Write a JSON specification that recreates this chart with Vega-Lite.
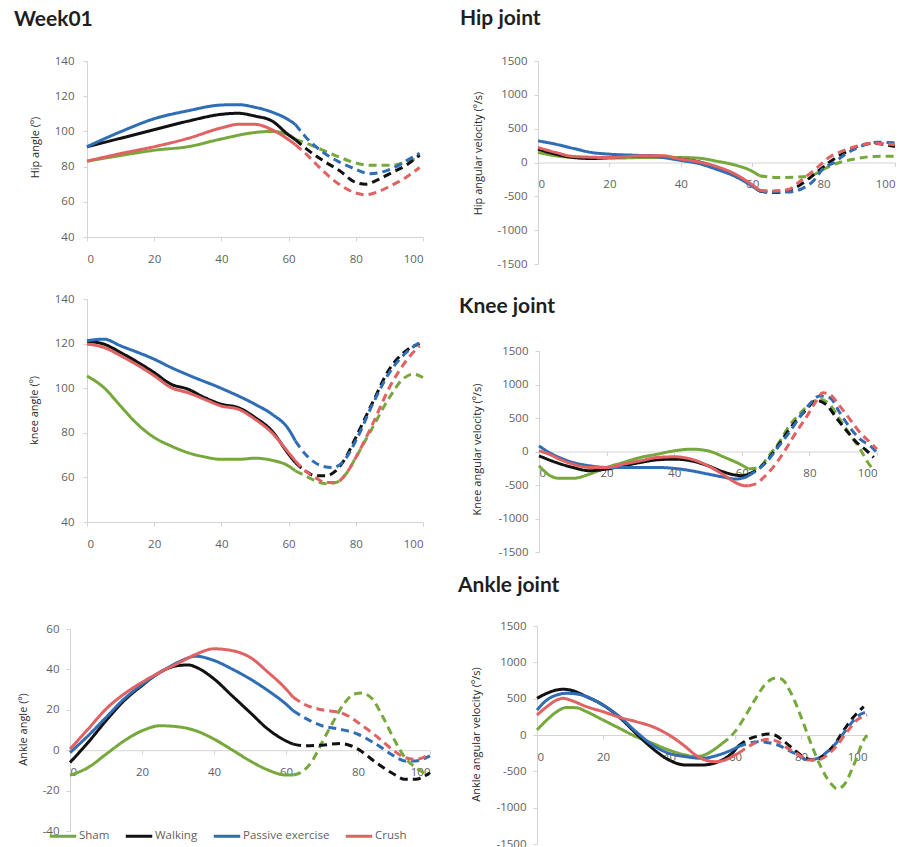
{
  "$schema": "https://vega.github.io/schema/vega-lite/v6.json",
  "background": "white",
  "padding": {"left": 14, "top": 8, "right": 0, "bottom": 0},
  "datasets": {
    "hipAngle": [
      {"group":"Sham","phase":"Stance","pct":0,"value":83.1},{"group":"Sham","phase":"Stance","pct":10,"value":86.3},{"group":"Sham","phase":"Stance","pct":20,"value":89.3},{"group":"Sham","phase":"Stance","pct":30,"value":91.3},{"group":"Sham","phase":"Stance","pct":40,"value":95.7},{"group":"Sham","phase":"Stance","pct":50,"value":99.4},{"group":"Sham","phase":"Stance","pct":55,"value":100},{"group":"Sham","phase":"Stance","pct":60,"value":98},{"group":"Sham","phase":"Stance","pct":62,"value":95.5},
      {"group":"Sham","phase":"Swing","pct":62,"value":95.5},{"group":"Sham","phase":"Swing","pct":65,"value":93.5},{"group":"Sham","phase":"Swing","pct":70,"value":89.5},{"group":"Sham","phase":"Swing","pct":75,"value":85.5},{"group":"Sham","phase":"Swing","pct":80,"value":82},{"group":"Sham","phase":"Swing","pct":85,"value":80.7},{"group":"Sham","phase":"Swing","pct":90,"value":80.7},{"group":"Sham","phase":"Swing","pct":95,"value":82.5},{"group":"Sham","phase":"Swing","pct":99,"value":85.5},
      {"group":"Walking","phase":"Stance","pct":0,"value":91.3},{"group":"Walking","phase":"Stance","pct":10,"value":96.1},{"group":"Walking","phase":"Stance","pct":20,"value":101},{"group":"Walking","phase":"Stance","pct":30,"value":105.8},{"group":"Walking","phase":"Stance","pct":40,"value":109.7},{"group":"Walking","phase":"Stance","pct":45,"value":110.3},{"group":"Walking","phase":"Stance","pct":50,"value":108.7},{"group":"Walking","phase":"Stance","pct":55,"value":106},{"group":"Walking","phase":"Stance","pct":60,"value":98},{"group":"Walking","phase":"Stance","pct":62,"value":95.3},
      {"group":"Walking","phase":"Swing","pct":62,"value":95.3},{"group":"Walking","phase":"Swing","pct":65,"value":90.5},{"group":"Walking","phase":"Swing","pct":70,"value":83.7},{"group":"Walking","phase":"Swing","pct":75,"value":77.9},{"group":"Walking","phase":"Swing","pct":80,"value":71},{"group":"Walking","phase":"Swing","pct":83,"value":70},{"group":"Walking","phase":"Swing","pct":86,"value":72},{"group":"Walking","phase":"Swing","pct":90,"value":75.9},{"group":"Walking","phase":"Swing","pct":95,"value":80.8},{"group":"Walking","phase":"Swing","pct":99,"value":86.6},
      {"group":"Passive exercise","phase":"Stance","pct":0,"value":91.3},{"group":"Passive exercise","phase":"Stance","pct":10,"value":99.8},{"group":"Passive exercise","phase":"Stance","pct":20,"value":107.2},{"group":"Passive exercise","phase":"Stance","pct":30,"value":111.7},{"group":"Passive exercise","phase":"Stance","pct":40,"value":115},{"group":"Passive exercise","phase":"Stance","pct":45,"value":115.2},{"group":"Passive exercise","phase":"Stance","pct":50,"value":113.7},{"group":"Passive exercise","phase":"Stance","pct":55,"value":111},{"group":"Passive exercise","phase":"Stance","pct":60,"value":106.6},{"group":"Passive exercise","phase":"Stance","pct":62,"value":104},
      {"group":"Passive exercise","phase":"Swing","pct":62,"value":104},{"group":"Passive exercise","phase":"Swing","pct":65,"value":97},{"group":"Passive exercise","phase":"Swing","pct":70,"value":88.5},{"group":"Passive exercise","phase":"Swing","pct":75,"value":82.7},{"group":"Passive exercise","phase":"Swing","pct":80,"value":78.5},{"group":"Passive exercise","phase":"Swing","pct":84,"value":76},{"group":"Passive exercise","phase":"Swing","pct":88,"value":77},{"group":"Passive exercise","phase":"Swing","pct":92,"value":80},{"group":"Passive exercise","phase":"Swing","pct":96,"value":84.4},{"group":"Passive exercise","phase":"Swing","pct":99,"value":87.6},
      {"group":"Crush","phase":"Stance","pct":0,"value":83.1},{"group":"Crush","phase":"Stance","pct":10,"value":87.4},{"group":"Crush","phase":"Stance","pct":20,"value":91.3},{"group":"Crush","phase":"Stance","pct":30,"value":96},{"group":"Crush","phase":"Stance","pct":40,"value":102},{"group":"Crush","phase":"Stance","pct":45,"value":104},{"group":"Crush","phase":"Stance","pct":50,"value":104},{"group":"Crush","phase":"Stance","pct":55,"value":101},{"group":"Crush","phase":"Stance","pct":60,"value":95.3},{"group":"Crush","phase":"Stance","pct":62,"value":92.5},
      {"group":"Crush","phase":"Swing","pct":62,"value":92.5},{"group":"Crush","phase":"Swing","pct":65,"value":87.5},{"group":"Crush","phase":"Swing","pct":70,"value":78},{"group":"Crush","phase":"Swing","pct":75,"value":70},{"group":"Crush","phase":"Swing","pct":80,"value":65},{"group":"Crush","phase":"Swing","pct":83,"value":64},{"group":"Crush","phase":"Swing","pct":87,"value":66},{"group":"Crush","phase":"Swing","pct":90,"value":68.7},{"group":"Crush","phase":"Swing","pct":95,"value":74},{"group":"Crush","phase":"Swing","pct":99,"value":79.5}
    ],
    "hipVelocity": [
      {"group":"Sham","phase":"Stance","pct":0,"value":148},{"group":"Sham","phase":"Stance","pct":5,"value":99},{"group":"Sham","phase":"Stance","pct":10,"value":74},{"group":"Sham","phase":"Stance","pct":20,"value":64},{"group":"Sham","phase":"Stance","pct":30,"value":74},{"group":"Sham","phase":"Stance","pct":40,"value":74},{"group":"Sham","phase":"Stance","pct":45,"value":64},{"group":"Sham","phase":"Stance","pct":50,"value":20},{"group":"Sham","phase":"Stance","pct":55,"value":-35},{"group":"Sham","phase":"Stance","pct":60,"value":-130},{"group":"Sham","phase":"Stance","pct":62,"value":-195},
      {"group":"Sham","phase":"Swing","pct":62,"value":-195},{"group":"Sham","phase":"Swing","pct":67,"value":-222},{"group":"Sham","phase":"Swing","pct":74,"value":-212},{"group":"Sham","phase":"Swing","pct":77,"value":-185},{"group":"Sham","phase":"Swing","pct":80,"value":-99},{"group":"Sham","phase":"Swing","pct":84.5,"value":0},{"group":"Sham","phase":"Swing","pct":89,"value":55},{"group":"Sham","phase":"Swing","pct":94,"value":89},{"group":"Sham","phase":"Swing","pct":100,"value":92},
      {"group":"Walking","phase":"Stance","pct":0,"value":197},{"group":"Walking","phase":"Stance","pct":5,"value":123},{"group":"Walking","phase":"Stance","pct":10,"value":74},{"group":"Walking","phase":"Stance","pct":15,"value":59},{"group":"Walking","phase":"Stance","pct":20,"value":74},{"group":"Walking","phase":"Stance","pct":25,"value":89},{"group":"Walking","phase":"Stance","pct":30,"value":99},{"group":"Walking","phase":"Stance","pct":35,"value":89},{"group":"Walking","phase":"Stance","pct":40,"value":50},{"group":"Walking","phase":"Stance","pct":45,"value":10},{"group":"Walking","phase":"Stance","pct":50,"value":-75},{"group":"Walking","phase":"Stance","pct":55,"value":-180},{"group":"Walking","phase":"Stance","pct":60,"value":-340},{"group":"Walking","phase":"Stance","pct":62,"value":-420},
      {"group":"Walking","phase":"Swing","pct":62,"value":-420},{"group":"Walking","phase":"Swing","pct":66,"value":-444},{"group":"Walking","phase":"Swing","pct":70,"value":-420},{"group":"Walking","phase":"Swing","pct":74,"value":-311},{"group":"Walking","phase":"Swing","pct":78,"value":-148},{"group":"Walking","phase":"Swing","pct":81.5,"value":0},{"group":"Walking","phase":"Swing","pct":85,"value":118},{"group":"Walking","phase":"Swing","pct":89,"value":227},{"group":"Walking","phase":"Swing","pct":94,"value":281},{"group":"Walking","phase":"Swing","pct":100,"value":235},
      {"group":"Passive exercise","phase":"Stance","pct":0,"value":320},{"group":"Passive exercise","phase":"Stance","pct":5,"value":270},{"group":"Passive exercise","phase":"Stance","pct":10,"value":207},{"group":"Passive exercise","phase":"Stance","pct":15,"value":148},{"group":"Passive exercise","phase":"Stance","pct":20,"value":123},{"group":"Passive exercise","phase":"Stance","pct":30,"value":99},{"group":"Passive exercise","phase":"Stance","pct":35,"value":74},{"group":"Passive exercise","phase":"Stance","pct":40,"value":30},{"group":"Passive exercise","phase":"Stance","pct":45,"value":-15},{"group":"Passive exercise","phase":"Stance","pct":50,"value":-100},{"group":"Passive exercise","phase":"Stance","pct":55,"value":-200},{"group":"Passive exercise","phase":"Stance","pct":60,"value":-350},{"group":"Passive exercise","phase":"Stance","pct":62,"value":-419},
      {"group":"Passive exercise","phase":"Swing","pct":62,"value":-419},{"group":"Passive exercise","phase":"Swing","pct":65,"value":-435},{"group":"Passive exercise","phase":"Swing","pct":70,"value":-435},{"group":"Passive exercise","phase":"Swing","pct":74,"value":-385},{"group":"Passive exercise","phase":"Swing","pct":77,"value":-280},{"group":"Passive exercise","phase":"Swing","pct":80,"value":-85},{"group":"Passive exercise","phase":"Swing","pct":83,"value":0},{"group":"Passive exercise","phase":"Swing","pct":86,"value":120},{"group":"Passive exercise","phase":"Swing","pct":90,"value":230},{"group":"Passive exercise","phase":"Swing","pct":95,"value":300},{"group":"Passive exercise","phase":"Swing","pct":100,"value":290},
      {"group":"Crush","phase":"Stance","pct":0,"value":222},{"group":"Crush","phase":"Stance","pct":5,"value":148},{"group":"Crush","phase":"Stance","pct":10,"value":89},{"group":"Crush","phase":"Stance","pct":20,"value":74},{"group":"Crush","phase":"Stance","pct":30,"value":99},{"group":"Crush","phase":"Stance","pct":35,"value":99},{"group":"Crush","phase":"Stance","pct":40,"value":50},{"group":"Crush","phase":"Stance","pct":45,"value":10},{"group":"Crush","phase":"Stance","pct":50,"value":-60},{"group":"Crush","phase":"Stance","pct":55,"value":-165},{"group":"Crush","phase":"Stance","pct":60,"value":-330},{"group":"Crush","phase":"Stance","pct":62,"value":-409},
      {"group":"Crush","phase":"Swing","pct":62,"value":-409},{"group":"Crush","phase":"Swing","pct":65,"value":-420},{"group":"Crush","phase":"Swing","pct":70,"value":-400},{"group":"Crush","phase":"Swing","pct":74,"value":-252},{"group":"Crush","phase":"Swing","pct":78,"value":-85},{"group":"Crush","phase":"Swing","pct":81.5,"value":74},{"group":"Crush","phase":"Swing","pct":85,"value":163},{"group":"Crush","phase":"Swing","pct":89,"value":237},{"group":"Crush","phase":"Swing","pct":94,"value":286},{"group":"Crush","phase":"Swing","pct":100,"value":262}
    ],
    "kneeAngle": [
      {"group":"Sham","phase":"Stance","pct":0,"value":105.5},{"group":"Sham","phase":"Stance","pct":5,"value":100.3},{"group":"Sham","phase":"Stance","pct":10,"value":92},{"group":"Sham","phase":"Stance","pct":15,"value":83.9},{"group":"Sham","phase":"Stance","pct":20,"value":77.9},{"group":"Sham","phase":"Stance","pct":25,"value":74.1},{"group":"Sham","phase":"Stance","pct":30,"value":71.1},{"group":"Sham","phase":"Stance","pct":35,"value":69.2},{"group":"Sham","phase":"Stance","pct":40,"value":68.1},{"group":"Sham","phase":"Stance","pct":45,"value":68.1},{"group":"Sham","phase":"Stance","pct":50,"value":68.6},{"group":"Sham","phase":"Stance","pct":55,"value":67.7},{"group":"Sham","phase":"Stance","pct":60,"value":65.1},{"group":"Sham","phase":"Stance","pct":62,"value":62.9},
      {"group":"Sham","phase":"Swing","pct":62,"value":62.9},{"group":"Sham","phase":"Swing","pct":65,"value":60.7},{"group":"Sham","phase":"Swing","pct":68,"value":58.4},{"group":"Sham","phase":"Swing","pct":71,"value":57.2},{"group":"Sham","phase":"Swing","pct":74,"value":57.7},{"group":"Sham","phase":"Swing","pct":77,"value":61.4},{"group":"Sham","phase":"Swing","pct":80,"value":68.9},{"group":"Sham","phase":"Swing","pct":85,"value":82.4},{"group":"Sham","phase":"Swing","pct":90,"value":95.8},{"group":"Sham","phase":"Swing","pct":94,"value":104.1},{"group":"Sham","phase":"Swing","pct":97,"value":106.3},{"group":"Sham","phase":"Swing","pct":100,"value":104.8},
      {"group":"Walking","phase":"Stance","pct":0,"value":121},{"group":"Walking","phase":"Stance","pct":5,"value":119.8},{"group":"Walking","phase":"Stance","pct":10,"value":116},{"group":"Walking","phase":"Stance","pct":20,"value":107},{"group":"Walking","phase":"Stance","pct":25,"value":101.8},{"group":"Walking","phase":"Stance","pct":30,"value":99.6},{"group":"Walking","phase":"Stance","pct":35,"value":95.8},{"group":"Walking","phase":"Stance","pct":40,"value":92.8},{"group":"Walking","phase":"Stance","pct":45,"value":91.3},{"group":"Walking","phase":"Stance","pct":50,"value":86.9},{"group":"Walking","phase":"Stance","pct":55,"value":80.9},{"group":"Walking","phase":"Stance","pct":60,"value":70.4},{"group":"Walking","phase":"Stance","pct":62,"value":66.6},
      {"group":"Walking","phase":"Swing","pct":62,"value":66.6},{"group":"Walking","phase":"Swing","pct":65,"value":62.9},{"group":"Walking","phase":"Swing","pct":68,"value":60.7},{"group":"Walking","phase":"Swing","pct":71,"value":60.7},{"group":"Walking","phase":"Swing","pct":74,"value":62.9},{"group":"Walking","phase":"Swing","pct":77,"value":68.9},{"group":"Walking","phase":"Swing","pct":80,"value":77.9},{"group":"Walking","phase":"Swing","pct":85,"value":93.6},{"group":"Walking","phase":"Swing","pct":90,"value":108.6},{"group":"Walking","phase":"Swing","pct":95,"value":116.8},{"group":"Walking","phase":"Swing","pct":99,"value":120},
      {"group":"Passive exercise","phase":"Stance","pct":0,"value":121.3},{"group":"Passive exercise","phase":"Stance","pct":5,"value":122},{"group":"Passive exercise","phase":"Stance","pct":10,"value":119},{"group":"Passive exercise","phase":"Stance","pct":20,"value":113},{"group":"Passive exercise","phase":"Stance","pct":25,"value":109.3},{"group":"Passive exercise","phase":"Stance","pct":30,"value":106},{"group":"Passive exercise","phase":"Stance","pct":40,"value":99.9},{"group":"Passive exercise","phase":"Stance","pct":50,"value":92.8},{"group":"Passive exercise","phase":"Stance","pct":55,"value":88.4},{"group":"Passive exercise","phase":"Stance","pct":60,"value":81.6},{"group":"Passive exercise","phase":"Stance","pct":62,"value":76.4},
      {"group":"Passive exercise","phase":"Swing","pct":62,"value":76.4},{"group":"Passive exercise","phase":"Swing","pct":65,"value":70.4},{"group":"Passive exercise","phase":"Swing","pct":70,"value":65.1},{"group":"Passive exercise","phase":"Swing","pct":73,"value":64.4},{"group":"Passive exercise","phase":"Swing","pct":76,"value":66.6},{"group":"Passive exercise","phase":"Swing","pct":80,"value":76.4},{"group":"Passive exercise","phase":"Swing","pct":85,"value":92.8},{"group":"Passive exercise","phase":"Swing","pct":90,"value":107},{"group":"Passive exercise","phase":"Swing","pct":95,"value":116},{"group":"Passive exercise","phase":"Swing","pct":99,"value":120.5},
      {"group":"Crush","phase":"Stance","pct":0,"value":119.8},{"group":"Crush","phase":"Stance","pct":5,"value":118.3},{"group":"Crush","phase":"Stance","pct":10,"value":114.6},{"group":"Crush","phase":"Stance","pct":20,"value":105.6},{"group":"Crush","phase":"Stance","pct":25,"value":100.3},{"group":"Crush","phase":"Stance","pct":30,"value":98},{"group":"Crush","phase":"Stance","pct":35,"value":95},{"group":"Crush","phase":"Stance","pct":40,"value":92},{"group":"Crush","phase":"Stance","pct":45,"value":90.6},{"group":"Crush","phase":"Stance","pct":50,"value":86.1},{"group":"Crush","phase":"Stance","pct":55,"value":80.1},{"group":"Crush","phase":"Stance","pct":60,"value":71.1},{"group":"Crush","phase":"Stance","pct":62,"value":67.4},
      {"group":"Crush","phase":"Swing","pct":62,"value":67.4},{"group":"Crush","phase":"Swing","pct":65,"value":62.9},{"group":"Crush","phase":"Swing","pct":68,"value":59.9},{"group":"Crush","phase":"Swing","pct":71,"value":57.7},{"group":"Crush","phase":"Swing","pct":74,"value":57.7},{"group":"Crush","phase":"Swing","pct":77,"value":61.4},{"group":"Crush","phase":"Swing","pct":80,"value":68.9},{"group":"Crush","phase":"Swing","pct":85,"value":83.9},{"group":"Crush","phase":"Swing","pct":90,"value":100.3},{"group":"Crush","phase":"Swing","pct":95,"value":112.3},{"group":"Crush","phase":"Swing","pct":99,"value":119}
    ],
    "kneeVelocity": [
      {"group":"Sham","phase":"Stance","pct":0,"value":-213},{"group":"Sham","phase":"Stance","pct":3,"value":-351},{"group":"Sham","phase":"Stance","pct":6,"value":-401},{"group":"Sham","phase":"Stance","pct":10,"value":-401},{"group":"Sham","phase":"Stance","pct":15,"value":-337},{"group":"Sham","phase":"Stance","pct":20,"value":-238},{"group":"Sham","phase":"Stance","pct":25,"value":-163},{"group":"Sham","phase":"Stance","pct":30,"value":-89},{"group":"Sham","phase":"Stance","pct":35,"value":-40},{"group":"Sham","phase":"Stance","pct":40,"value":10},{"group":"Sham","phase":"Stance","pct":45,"value":35},{"group":"Sham","phase":"Stance","pct":50,"value":10},{"group":"Sham","phase":"Stance","pct":55,"value":-89},{"group":"Sham","phase":"Stance","pct":60,"value":-203},{"group":"Sham","phase":"Stance","pct":62,"value":-262},
      {"group":"Sham","phase":"Swing","pct":62,"value":-262},{"group":"Sham","phase":"Swing","pct":65,"value":-238},{"group":"Sham","phase":"Swing","pct":68,"value":-64},{"group":"Sham","phase":"Swing","pct":71,"value":134},{"group":"Sham","phase":"Swing","pct":74,"value":381},{"group":"Sham","phase":"Swing","pct":77,"value":554},{"group":"Sham","phase":"Swing","pct":80,"value":703},{"group":"Sham","phase":"Swing","pct":83,"value":780},{"group":"Sham","phase":"Swing","pct":86,"value":703},{"group":"Sham","phase":"Swing","pct":89,"value":480},{"group":"Sham","phase":"Swing","pct":92,"value":257},{"group":"Sham","phase":"Swing","pct":95,"value":35},{"group":"Sham","phase":"Swing","pct":98,"value":-213},{"group":"Sham","phase":"Swing","pct":99,"value":-262},
      {"group":"Walking","phase":"Stance","pct":0,"value":-64},{"group":"Walking","phase":"Stance","pct":5,"value":-163},{"group":"Walking","phase":"Stance","pct":10,"value":-238},{"group":"Walking","phase":"Stance","pct":15,"value":-287},{"group":"Walking","phase":"Stance","pct":20,"value":-262},{"group":"Walking","phase":"Stance","pct":25,"value":-213},{"group":"Walking","phase":"Stance","pct":30,"value":-163},{"group":"Walking","phase":"Stance","pct":35,"value":-124},{"group":"Walking","phase":"Stance","pct":40,"value":-114},{"group":"Walking","phase":"Stance","pct":45,"value":-139},{"group":"Walking","phase":"Stance","pct":50,"value":-213},{"group":"Walking","phase":"Stance","pct":55,"value":-312},{"group":"Walking","phase":"Stance","pct":60,"value":-361},{"group":"Walking","phase":"Stance","pct":62,"value":-337},
      {"group":"Walking","phase":"Swing","pct":62,"value":-337},{"group":"Walking","phase":"Swing","pct":64,"value":-287},{"group":"Walking","phase":"Swing","pct":67,"value":-163},{"group":"Walking","phase":"Swing","pct":70,"value":35},{"group":"Walking","phase":"Swing","pct":73,"value":257},{"group":"Walking","phase":"Swing","pct":76,"value":455},{"group":"Walking","phase":"Swing","pct":79,"value":620},{"group":"Walking","phase":"Swing","pct":82,"value":760},{"group":"Walking","phase":"Swing","pct":85,"value":700},{"group":"Walking","phase":"Swing","pct":88,"value":500},{"group":"Walking","phase":"Swing","pct":91,"value":310},{"group":"Walking","phase":"Swing","pct":94,"value":134},{"group":"Walking","phase":"Swing","pct":97,"value":10},{"group":"Walking","phase":"Swing","pct":99,"value":-89},
      {"group":"Passive exercise","phase":"Stance","pct":0,"value":84},{"group":"Passive exercise","phase":"Stance","pct":3,"value":-15},{"group":"Passive exercise","phase":"Stance","pct":6,"value":-89},{"group":"Passive exercise","phase":"Stance","pct":10,"value":-163},{"group":"Passive exercise","phase":"Stance","pct":15,"value":-213},{"group":"Passive exercise","phase":"Stance","pct":20,"value":-238},{"group":"Passive exercise","phase":"Stance","pct":25,"value":-238},{"group":"Passive exercise","phase":"Stance","pct":30,"value":-238},{"group":"Passive exercise","phase":"Stance","pct":35,"value":-238},{"group":"Passive exercise","phase":"Stance","pct":40,"value":-252},{"group":"Passive exercise","phase":"Stance","pct":45,"value":-287},{"group":"Passive exercise","phase":"Stance","pct":50,"value":-337},{"group":"Passive exercise","phase":"Stance","pct":55,"value":-386},{"group":"Passive exercise","phase":"Stance","pct":58,"value":-411},{"group":"Passive exercise","phase":"Stance","pct":61,"value":-386},{"group":"Passive exercise","phase":"Stance","pct":62,"value":-361},
      {"group":"Passive exercise","phase":"Swing","pct":62,"value":-361},{"group":"Passive exercise","phase":"Swing","pct":65,"value":-262},{"group":"Passive exercise","phase":"Swing","pct":68,"value":-114},{"group":"Passive exercise","phase":"Swing","pct":71,"value":84},{"group":"Passive exercise","phase":"Swing","pct":74,"value":282},{"group":"Passive exercise","phase":"Swing","pct":77,"value":505},{"group":"Passive exercise","phase":"Swing","pct":80,"value":703},{"group":"Passive exercise","phase":"Swing","pct":83,"value":827},{"group":"Passive exercise","phase":"Swing","pct":86,"value":802},{"group":"Passive exercise","phase":"Swing","pct":89,"value":579},{"group":"Passive exercise","phase":"Swing","pct":92,"value":356},{"group":"Passive exercise","phase":"Swing","pct":95,"value":183},{"group":"Passive exercise","phase":"Swing","pct":98,"value":84},{"group":"Passive exercise","phase":"Swing","pct":100,"value":-15},
      {"group":"Crush","phase":"Stance","pct":0,"value":10},{"group":"Crush","phase":"Stance","pct":3,"value":-40},{"group":"Crush","phase":"Stance","pct":6,"value":-114},{"group":"Crush","phase":"Stance","pct":10,"value":-188},{"group":"Crush","phase":"Stance","pct":15,"value":-238},{"group":"Crush","phase":"Stance","pct":20,"value":-238},{"group":"Crush","phase":"Stance","pct":25,"value":-188},{"group":"Crush","phase":"Stance","pct":30,"value":-139},{"group":"Crush","phase":"Stance","pct":35,"value":-89},{"group":"Crush","phase":"Stance","pct":40,"value":-79},{"group":"Crush","phase":"Stance","pct":45,"value":-114},{"group":"Crush","phase":"Stance","pct":50,"value":-213},{"group":"Crush","phase":"Stance","pct":55,"value":-361},{"group":"Crush","phase":"Stance","pct":58,"value":-460},{"group":"Crush","phase":"Stance","pct":61,"value":-510},{"group":"Crush","phase":"Stance","pct":62,"value":-510},
      {"group":"Crush","phase":"Swing","pct":62,"value":-510},{"group":"Crush","phase":"Swing","pct":64,"value":-485},{"group":"Crush","phase":"Swing","pct":67,"value":-361},{"group":"Crush","phase":"Swing","pct":70,"value":-188},{"group":"Crush","phase":"Swing","pct":73,"value":35},{"group":"Crush","phase":"Swing","pct":76,"value":282},{"group":"Crush","phase":"Swing","pct":79,"value":505},{"group":"Crush","phase":"Swing","pct":82,"value":752},{"group":"Crush","phase":"Swing","pct":84,"value":876},{"group":"Crush","phase":"Swing","pct":86,"value":851},{"group":"Crush","phase":"Swing","pct":89,"value":678},{"group":"Crush","phase":"Swing","pct":92,"value":480},{"group":"Crush","phase":"Swing","pct":95,"value":282},{"group":"Crush","phase":"Swing","pct":98,"value":134},{"group":"Crush","phase":"Swing","pct":100,"value":35}
    ],
    "ankleAngle": [
      {"group":"Sham","phase":"Stance","pct":0,"value":-12.4},{"group":"Sham","phase":"Stance","pct":5,"value":-8.6},{"group":"Sham","phase":"Stance","pct":10,"value":-2},{"group":"Sham","phase":"Stance","pct":15,"value":4.6},{"group":"Sham","phase":"Stance","pct":20,"value":9.6},{"group":"Sham","phase":"Stance","pct":25,"value":12.1},{"group":"Sham","phase":"Stance","pct":30,"value":11.6},{"group":"Sham","phase":"Stance","pct":35,"value":9.6},{"group":"Sham","phase":"Stance","pct":40,"value":5.5},{"group":"Sham","phase":"Stance","pct":45,"value":0.2},{"group":"Sham","phase":"Stance","pct":50,"value":-5.3},{"group":"Sham","phase":"Stance","pct":55,"value":-9.8},{"group":"Sham","phase":"Stance","pct":60,"value":-12.3},{"group":"Sham","phase":"Stance","pct":62,"value":-12.3},
      {"group":"Sham","phase":"Swing","pct":62,"value":-12.3},{"group":"Sham","phase":"Swing","pct":64,"value":-11.1},{"group":"Sham","phase":"Swing","pct":67,"value":-6.1},{"group":"Sham","phase":"Swing","pct":70,"value":3.8},{"group":"Sham","phase":"Swing","pct":73,"value":13.7},{"group":"Sham","phase":"Swing","pct":76,"value":22.8},{"group":"Sham","phase":"Swing","pct":79,"value":27.8},{"group":"Sham","phase":"Swing","pct":81,"value":28.3},{"group":"Sham","phase":"Swing","pct":84,"value":25.3},{"group":"Sham","phase":"Swing","pct":87,"value":16.2},{"group":"Sham","phase":"Swing","pct":90,"value":5.5},{"group":"Sham","phase":"Swing","pct":93,"value":-3.6},{"group":"Sham","phase":"Swing","pct":96,"value":-8.6},{"group":"Sham","phase":"Swing","pct":99,"value":-11.9},
      {"group":"Walking","phase":"Stance","pct":0,"value":-6.1},{"group":"Walking","phase":"Stance","pct":5,"value":3.8},{"group":"Walking","phase":"Stance","pct":10,"value":14.6},{"group":"Walking","phase":"Stance","pct":15,"value":24.5},{"group":"Walking","phase":"Stance","pct":20,"value":32},{"group":"Walking","phase":"Stance","pct":25,"value":38.6},{"group":"Walking","phase":"Stance","pct":30,"value":41.9},{"group":"Walking","phase":"Stance","pct":33,"value":42.2},{"group":"Walking","phase":"Stance","pct":35,"value":41.1},{"group":"Walking","phase":"Stance","pct":40,"value":35.3},{"group":"Walking","phase":"Stance","pct":45,"value":27},{"group":"Walking","phase":"Stance","pct":50,"value":18.7},{"group":"Walking","phase":"Stance","pct":55,"value":10.4},{"group":"Walking","phase":"Stance","pct":60,"value":4.6},{"group":"Walking","phase":"Stance","pct":62,"value":3},
      {"group":"Walking","phase":"Swing","pct":62,"value":3},{"group":"Walking","phase":"Swing","pct":65,"value":2.2},{"group":"Walking","phase":"Swing","pct":70,"value":2.5},{"group":"Walking","phase":"Swing","pct":75,"value":3.3},{"group":"Walking","phase":"Swing","pct":78,"value":2.2},{"group":"Walking","phase":"Swing","pct":80,"value":0.5},{"group":"Walking","phase":"Swing","pct":85,"value":-6.1},{"group":"Walking","phase":"Swing","pct":90,"value":-11.9},{"group":"Walking","phase":"Swing","pct":93,"value":-14.4},{"group":"Walking","phase":"Swing","pct":96,"value":-14.4},{"group":"Walking","phase":"Swing","pct":100,"value":-11.1},
      {"group":"Passive exercise","phase":"Stance","pct":0,"value":-1.2},{"group":"Passive exercise","phase":"Stance","pct":5,"value":7.1},{"group":"Passive exercise","phase":"Stance","pct":10,"value":16.2},{"group":"Passive exercise","phase":"Stance","pct":15,"value":25.3},{"group":"Passive exercise","phase":"Stance","pct":20,"value":32.5},{"group":"Passive exercise","phase":"Stance","pct":25,"value":38.5},{"group":"Passive exercise","phase":"Stance","pct":30,"value":43.5},{"group":"Passive exercise","phase":"Stance","pct":35,"value":46.5},{"group":"Passive exercise","phase":"Stance","pct":40,"value":44.4},{"group":"Passive exercise","phase":"Stance","pct":45,"value":40.2},{"group":"Passive exercise","phase":"Stance","pct":50,"value":35.3},{"group":"Passive exercise","phase":"Stance","pct":55,"value":29.5},{"group":"Passive exercise","phase":"Stance","pct":60,"value":22.8},{"group":"Passive exercise","phase":"Stance","pct":62,"value":19.5},
      {"group":"Passive exercise","phase":"Swing","pct":62,"value":19.5},{"group":"Passive exercise","phase":"Swing","pct":65,"value":16.2},{"group":"Passive exercise","phase":"Swing","pct":70,"value":12.1},{"group":"Passive exercise","phase":"Swing","pct":75,"value":10.4},{"group":"Passive exercise","phase":"Swing","pct":80,"value":7.9},{"group":"Passive exercise","phase":"Swing","pct":85,"value":3},{"group":"Passive exercise","phase":"Swing","pct":90,"value":-2.8},{"group":"Passive exercise","phase":"Swing","pct":93,"value":-5.3},{"group":"Passive exercise","phase":"Swing","pct":96,"value":-5.3},{"group":"Passive exercise","phase":"Swing","pct":100,"value":-2.8},
      {"group":"Crush","phase":"Stance","pct":0,"value":0.5},{"group":"Crush","phase":"Stance","pct":5,"value":10.4},{"group":"Crush","phase":"Stance","pct":10,"value":20.4},{"group":"Crush","phase":"Stance","pct":15,"value":27.8},{"group":"Crush","phase":"Stance","pct":20,"value":33.6},{"group":"Crush","phase":"Stance","pct":25,"value":38.6},{"group":"Crush","phase":"Stance","pct":30,"value":43},{"group":"Crush","phase":"Stance","pct":35,"value":47.5},{"group":"Crush","phase":"Stance","pct":40,"value":50.2},{"group":"Crush","phase":"Stance","pct":45,"value":49.3},{"group":"Crush","phase":"Stance","pct":50,"value":46},{"group":"Crush","phase":"Stance","pct":55,"value":38.6},{"group":"Crush","phase":"Stance","pct":60,"value":30.3},{"group":"Crush","phase":"Stance","pct":62,"value":26.2},
      {"group":"Crush","phase":"Swing","pct":62,"value":26.2},{"group":"Crush","phase":"Swing","pct":65,"value":22.8},{"group":"Crush","phase":"Swing","pct":70,"value":20},{"group":"Crush","phase":"Swing","pct":75,"value":18.7},{"group":"Crush","phase":"Swing","pct":78,"value":16.2},{"group":"Crush","phase":"Swing","pct":80,"value":13.7},{"group":"Crush","phase":"Swing","pct":85,"value":7.1},{"group":"Crush","phase":"Swing","pct":90,"value":-0.3},{"group":"Crush","phase":"Swing","pct":93,"value":-3.6},{"group":"Crush","phase":"Swing","pct":96,"value":-4.5},{"group":"Crush","phase":"Swing","pct":100,"value":-2}
    ],
    "ankleVelocity": [
      {"group":"Sham","phase":"Stance","pct":0,"value":69},{"group":"Sham","phase":"Stance","pct":3,"value":207},{"group":"Sham","phase":"Stance","pct":6,"value":321},{"group":"Sham","phase":"Stance","pct":9,"value":380},{"group":"Sham","phase":"Stance","pct":12,"value":375},{"group":"Sham","phase":"Stance","pct":15,"value":321},{"group":"Sham","phase":"Stance","pct":20,"value":207},{"group":"Sham","phase":"Stance","pct":25,"value":92},{"group":"Sham","phase":"Stance","pct":30,"value":-23},{"group":"Sham","phase":"Stance","pct":35,"value":-115},{"group":"Sham","phase":"Stance","pct":40,"value":-207},{"group":"Sham","phase":"Stance","pct":45,"value":-275},{"group":"Sham","phase":"Stance","pct":48,"value":-298},{"group":"Sham","phase":"Stance","pct":51,"value":-270},{"group":"Sham","phase":"Stance","pct":54,"value":-190},{"group":"Sham","phase":"Stance","pct":56,"value":-120},
      {"group":"Sham","phase":"Swing","pct":56,"value":-120},{"group":"Sham","phase":"Swing","pct":60,"value":46},{"group":"Sham","phase":"Swing","pct":63,"value":252},{"group":"Sham","phase":"Swing","pct":66,"value":482},{"group":"Sham","phase":"Swing","pct":69,"value":689},{"group":"Sham","phase":"Swing","pct":72,"value":780},{"group":"Sham","phase":"Swing","pct":74,"value":770},{"group":"Sham","phase":"Swing","pct":77,"value":574},{"group":"Sham","phase":"Swing","pct":80,"value":252},{"group":"Sham","phase":"Swing","pct":83,"value":-115},{"group":"Sham","phase":"Swing","pct":86,"value":-436},{"group":"Sham","phase":"Swing","pct":89,"value":-666},{"group":"Sham","phase":"Swing","pct":91,"value":-740},{"group":"Sham","phase":"Swing","pct":93,"value":-688},{"group":"Sham","phase":"Swing","pct":96,"value":-413},{"group":"Sham","phase":"Swing","pct":99,"value":-69},{"group":"Sham","phase":"Swing","pct":100,"value":0},
      {"group":"Walking","phase":"Stance","pct":0,"value":505},{"group":"Walking","phase":"Stance","pct":3,"value":574},{"group":"Walking","phase":"Stance","pct":6,"value":620},{"group":"Walking","phase":"Stance","pct":8,"value":629},{"group":"Walking","phase":"Stance","pct":10,"value":620},{"group":"Walking","phase":"Stance","pct":15,"value":528},{"group":"Walking","phase":"Stance","pct":20,"value":413},{"group":"Walking","phase":"Stance","pct":25,"value":243},{"group":"Walking","phase":"Stance","pct":30,"value":23},{"group":"Walking","phase":"Stance","pct":35,"value":-184},{"group":"Walking","phase":"Stance","pct":40,"value":-344},{"group":"Walking","phase":"Stance","pct":45,"value":-413},{"group":"Walking","phase":"Stance","pct":50,"value":-413},{"group":"Walking","phase":"Stance","pct":55,"value":-367},{"group":"Walking","phase":"Stance","pct":60,"value":-207},{"group":"Walking","phase":"Stance","pct":61,"value":-151},
      {"group":"Walking","phase":"Swing","pct":61,"value":-151},{"group":"Walking","phase":"Swing","pct":64,"value":-60},{"group":"Walking","phase":"Swing","pct":67,"value":-14},{"group":"Walking","phase":"Swing","pct":70,"value":14},{"group":"Walking","phase":"Swing","pct":72,"value":0},{"group":"Walking","phase":"Swing","pct":75,"value":-92},{"group":"Walking","phase":"Swing","pct":78,"value":-207},{"group":"Walking","phase":"Swing","pct":81,"value":-308},{"group":"Walking","phase":"Swing","pct":84,"value":-344},{"group":"Walking","phase":"Swing","pct":87,"value":-275},{"group":"Walking","phase":"Swing","pct":90,"value":-138},{"group":"Walking","phase":"Swing","pct":93,"value":69},{"group":"Walking","phase":"Swing","pct":96,"value":252},{"group":"Walking","phase":"Swing","pct":99,"value":390},
      {"group":"Passive exercise","phase":"Stance","pct":0,"value":344},{"group":"Passive exercise","phase":"Stance","pct":3,"value":482},{"group":"Passive exercise","phase":"Stance","pct":6,"value":551},{"group":"Passive exercise","phase":"Stance","pct":9,"value":574},{"group":"Passive exercise","phase":"Stance","pct":12,"value":565},{"group":"Passive exercise","phase":"Stance","pct":15,"value":528},{"group":"Passive exercise","phase":"Stance","pct":20,"value":413},{"group":"Passive exercise","phase":"Stance","pct":25,"value":252},{"group":"Passive exercise","phase":"Stance","pct":30,"value":46},{"group":"Passive exercise","phase":"Stance","pct":35,"value":-138},{"group":"Passive exercise","phase":"Stance","pct":40,"value":-252},{"group":"Passive exercise","phase":"Stance","pct":45,"value":-298},{"group":"Passive exercise","phase":"Stance","pct":50,"value":-321},{"group":"Passive exercise","phase":"Stance","pct":55,"value":-275},{"group":"Passive exercise","phase":"Stance","pct":60,"value":-184},{"group":"Passive exercise","phase":"Stance","pct":61,"value":-161},
      {"group":"Passive exercise","phase":"Swing","pct":61,"value":-161},{"group":"Passive exercise","phase":"Swing","pct":64,"value":-115},{"group":"Passive exercise","phase":"Swing","pct":67,"value":-92},{"group":"Passive exercise","phase":"Swing","pct":70,"value":-106},{"group":"Passive exercise","phase":"Swing","pct":73,"value":-138},{"group":"Passive exercise","phase":"Swing","pct":76,"value":-207},{"group":"Passive exercise","phase":"Swing","pct":79,"value":-275},{"group":"Passive exercise","phase":"Swing","pct":82,"value":-344},{"group":"Passive exercise","phase":"Swing","pct":85,"value":-321},{"group":"Passive exercise","phase":"Swing","pct":88,"value":-230},{"group":"Passive exercise","phase":"Swing","pct":91,"value":-92},{"group":"Passive exercise","phase":"Swing","pct":94,"value":92},{"group":"Passive exercise","phase":"Swing","pct":97,"value":252},{"group":"Passive exercise","phase":"Swing","pct":100,"value":321},
      {"group":"Crush","phase":"Stance","pct":0,"value":275},{"group":"Crush","phase":"Stance","pct":3,"value":390},{"group":"Crush","phase":"Stance","pct":6,"value":482},{"group":"Crush","phase":"Stance","pct":8,"value":505},{"group":"Crush","phase":"Stance","pct":10,"value":482},{"group":"Crush","phase":"Stance","pct":15,"value":390},{"group":"Crush","phase":"Stance","pct":20,"value":321},{"group":"Crush","phase":"Stance","pct":25,"value":243},{"group":"Crush","phase":"Stance","pct":30,"value":184},{"group":"Crush","phase":"Stance","pct":35,"value":115},{"group":"Crush","phase":"Stance","pct":40,"value":0},{"group":"Crush","phase":"Stance","pct":45,"value":-161},{"group":"Crush","phase":"Stance","pct":48,"value":-275},{"group":"Crush","phase":"Stance","pct":51,"value":-344},{"group":"Crush","phase":"Stance","pct":54,"value":-367},{"group":"Crush","phase":"Stance","pct":57,"value":-344},{"group":"Crush","phase":"Stance","pct":60,"value":-275},{"group":"Crush","phase":"Stance","pct":61,"value":-252},
      {"group":"Crush","phase":"Swing","pct":61,"value":-252},{"group":"Crush","phase":"Swing","pct":64,"value":-161},{"group":"Crush","phase":"Swing","pct":67,"value":-92},{"group":"Crush","phase":"Swing","pct":70,"value":-60},{"group":"Crush","phase":"Swing","pct":73,"value":-92},{"group":"Crush","phase":"Swing","pct":76,"value":-184},{"group":"Crush","phase":"Swing","pct":79,"value":-262},{"group":"Crush","phase":"Swing","pct":82,"value":-344},{"group":"Crush","phase":"Swing","pct":85,"value":-344},{"group":"Crush","phase":"Swing","pct":88,"value":-275},{"group":"Crush","phase":"Swing","pct":91,"value":-138},{"group":"Crush","phase":"Swing","pct":94,"value":46},{"group":"Crush","phase":"Swing","pct":97,"value":207},{"group":"Crush","phase":"Swing","pct":100,"value":275}
    ]
  },
  "columns": 2,
  "bounds": "flush",
  "align": "each",
  "spacing": 0,
  "concat": [
    {
      "width": 467, "height": 238,
      "title": {"text": "Week01", "dx": -56, "offset": 25},
      "data": {"name": "hipAngle"},
      "mark": {"type": "line", "interpolate": "monotone", "strokeWidth": 3},
      "encoding": {
        "x": {"field": "pct", "type": "quantitative", "scale": {"domain": [0, 100], "range": [17, 353], "nice": false}, "axis": {"values": [0, 20, 40, 60, 80, 100], "title": null, "offset": -62}},
        "y": {"field": "value", "type": "quantitative", "scale": {"domain": [40, 140], "range": [176, 0], "nice": false, "zero": false}, "axis": {"values": [40, 60, 80, 100, 120, 140], "title": "Hip angle (º)", "offset": -17, "labelPadding": 9, "titleX": -52, "titleY": 86}},
        "color": {"field": "group", "type": "nominal", "scale": {"domain": ["Sham", "Walking", "Passive exercise", "Crush"], "range": ["#77a83c", "#111111", "#2f6db5", "#e06262"]}, "legend": {"orient": "none", "legendX": -22, "legendY": 760, "direction": "horizontal", "title": null}},
        "strokeDash": {"field": "phase", "type": "nominal", "scale": {"domain": ["Stance", "Swing"], "range": [[1, 0], [8, 5]]}, "legend": null}
      }
    },
    {
      "width": 358, "height": 238,
      "title": {"text": "Hip joint", "dx": -77, "offset": 26},
      "data": {"name": "hipVelocity"},
      "mark": {"type": "line", "interpolate": "monotone", "strokeWidth": 3},
      "encoding": {
        "x": {"field": "pct", "type": "quantitative", "scale": {"domain": [0, 100], "range": [1, 358], "nice": false}, "axis": {"values": [0, 20, 40, 60, 80, 100], "title": null, "offset": -136.5}},
        "y": {"field": "value", "type": "quantitative", "scale": {"domain": [-1500, 1500], "range": [203, 0], "nice": false, "zero": false}, "axis": {"values": [-1500, -1000, -500, 0, 500, 1000, 1500], "title": "Hip angular velocity (º/s)", "offset": -1, "labelExpr": "'' + datum.value", "titleX": -60, "titleY": 92}},
        "color": {"field": "group", "type": "nominal", "scale": {"domain": ["Sham", "Walking", "Passive exercise", "Crush"], "range": ["#77a83c", "#111111", "#2f6db5", "#e06262"]}, "legend": {"orient": "none", "legendX": -22, "legendY": 760, "direction": "horizontal", "title": null}},
        "strokeDash": {"field": "phase", "type": "nominal", "scale": {"domain": ["Stance", "Swing"], "range": [[1, 0], [8, 5]]}, "legend": null}
      }
    },
    {
      "width": 467, "height": 327,
      "data": {"name": "kneeAngle"},
      "mark": {"type": "line", "interpolate": "monotone", "strokeWidth": 3},
      "encoding": {
        "x": {"field": "pct", "type": "quantitative", "scale": {"domain": [0, 100], "range": [17, 353], "nice": false}, "axis": {"values": [0, 20, 40, 60, 80, 100], "title": null, "offset": -104}},
        "y": {"field": "value", "type": "quantitative", "scale": {"domain": [40, 140], "range": [223, 0], "nice": false, "zero": false}, "axis": {"values": [40, 60, 80, 100, 120, 140], "title": "knee angle (º)", "offset": -17, "labelPadding": 9, "titleX": -53, "titleY": 111}},
        "color": {"field": "group", "type": "nominal", "scale": {"domain": ["Sham", "Walking", "Passive exercise", "Crush"], "range": ["#77a83c", "#111111", "#2f6db5", "#e06262"]}, "legend": {"orient": "none", "legendX": -22, "legendY": 760, "direction": "horizontal", "title": null}},
        "strokeDash": {"field": "phase", "type": "nominal", "scale": {"domain": ["Stance", "Swing"], "range": [[1, 0], [8, 5]]}, "legend": null}
      }
    },
    {
      "width": 358, "height": 327,
      "title": {"text": "Knee joint", "dx": -78, "offset": 0, "dy": 18},
      "data": {"name": "kneeVelocity"},
      "mark": {"type": "line", "interpolate": "monotone", "strokeWidth": 3},
      "encoding": {
        "x": {"field": "pct", "type": "quantitative", "scale": {"domain": [0, 100], "range": [2, 340], "nice": false}, "axis": {"values": [0, 20, 40, 60, 80, 100], "title": null, "offset": -174.5}},
        "y": {"field": "value", "type": "quantitative", "scale": {"domain": [-1500, 1500], "range": [253, 52], "nice": false, "zero": false}, "axis": {"values": [-1500, -1000, -500, 0, 500, 1000, 1500], "title": "Knee angular velocity (º/s)", "offset": -2, "labelExpr": "'' + datum.value", "titleX": -62, "titleY": 150}},
        "color": {"field": "group", "type": "nominal", "scale": {"domain": ["Sham", "Walking", "Passive exercise", "Crush"], "range": ["#77a83c", "#111111", "#2f6db5", "#e06262"]}, "legend": {"orient": "none", "legendX": -22, "legendY": 760, "direction": "horizontal", "title": null}},
        "strokeDash": {"field": "phase", "type": "nominal", "scale": {"domain": ["Stance", "Swing"], "range": [[1, 0], [8, 5]]}, "legend": null}
      }
    },
    {
      "width": 467, "height": 218,
      "data": {"name": "ankleAngle"},
      "mark": {"type": "line", "interpolate": "monotone", "strokeWidth": 3},
      "encoding": {
        "x": {"field": "pct", "type": "quantitative", "scale": {"domain": [0, 100], "range": [0, 360], "nice": false}, "axis": {"values": [0, 20, 40, 60, 80, 100], "title": null, "offset": -93.8}},
        "y": {"field": "value", "type": "quantitative", "scale": {"domain": [-40, 60], "range": [205, 3], "nice": false, "zero": false}, "axis": {"values": [-40, -20, 0, 20, 40, 60], "title": "Ankle angle (º)", "labelExpr": "'' + datum.value", "titleX": -47, "titleY": 103}},
        "color": {"field": "group", "type": "nominal", "scale": {"domain": ["Sham", "Walking", "Passive exercise", "Crush"], "range": ["#77a83c", "#111111", "#2f6db5", "#e06262"]}, "legend": {"orient": "none", "legendX": -22, "legendY": 760, "direction": "horizontal", "title": null}},
        "strokeDash": {"field": "phase", "type": "nominal", "scale": {"domain": ["Stance", "Swing"], "range": [[1, 0], [8, 5]]}, "legend": null}
      }
    },
    {
      "width": 358, "height": 218,
      "title": {"text": "Ankle joint", "dx": -79, "offset": 24},
      "data": {"name": "ankleVelocity"},
      "mark": {"type": "line", "interpolate": "monotone", "strokeWidth": 3},
      "encoding": {
        "x": {"field": "pct", "type": "quantitative", "scale": {"domain": [0, 100], "range": [0, 330], "nice": false}, "axis": {"values": [0, 20, 40, 60, 80, 100], "title": null, "offset": -109}},
        "y": {"field": "value", "type": "quantitative", "scale": {"domain": [-1500, 1500], "range": [218, 0], "nice": false, "zero": false}, "axis": {"values": [-1500, -1000, -500, 0, 500, 1000, 1500], "title": "Ankle angular velocity (º/s)", "labelExpr": "'' + datum.value", "titleX": -61, "titleY": 108}},
        "color": {"field": "group", "type": "nominal", "scale": {"domain": ["Sham", "Walking", "Passive exercise", "Crush"], "range": ["#77a83c", "#111111", "#2f6db5", "#e06262"]}, "legend": {"orient": "none", "legendX": -22, "legendY": 760, "direction": "horizontal", "title": null}},
        "strokeDash": {"field": "phase", "type": "nominal", "scale": {"domain": ["Stance", "Swing"], "range": [[1, 0], [8, 5]]}, "legend": null}
      }
    }
  ],
  "config": {
    "view": {"stroke": null},
    "axis": {
      "grid": false,
      "domainColor": "#d4d4d4",
      "tickColor": "#d4d4d4",
      "tickSize": 4,
      "labelColor": "#5f5f5f",
      "labelFont": "Open Sans",
      "labelFontSize": 11.5,
      "labelPadding": 7,
      "titleFont": "Open Sans",
      "titleFontSize": 11,
      "titleFontWeight": "normal",
      "titleColor": "#2a2a2a",
      "titleAlign": "center",
      "titleBaseline": "middle",
      "titleAngle": -90
    },
    "axisX": {"labelPadding": 12, "titleAngle": 0},
    "title": {"font": "Lato", "fontSize": 21, "fontWeight": "bold", "color": "#1f1f1f", "anchor": "start", "frame": "group", "baseline": "alphabetic"},
    "legend": {
      "symbolType": "stroke",
      "symbolSize": 700,
      "symbolStrokeWidth": 3,
      "labelFont": "Open Sans",
      "labelFontSize": 11.5,
      "labelColor": "#5f5f5f",
      "labelOffset": 1,
      "columnPadding": 14,
      "padding": 0
    },
    "line": {"strokeCap": "butt", "strokeJoin": "round"}
  }
}
